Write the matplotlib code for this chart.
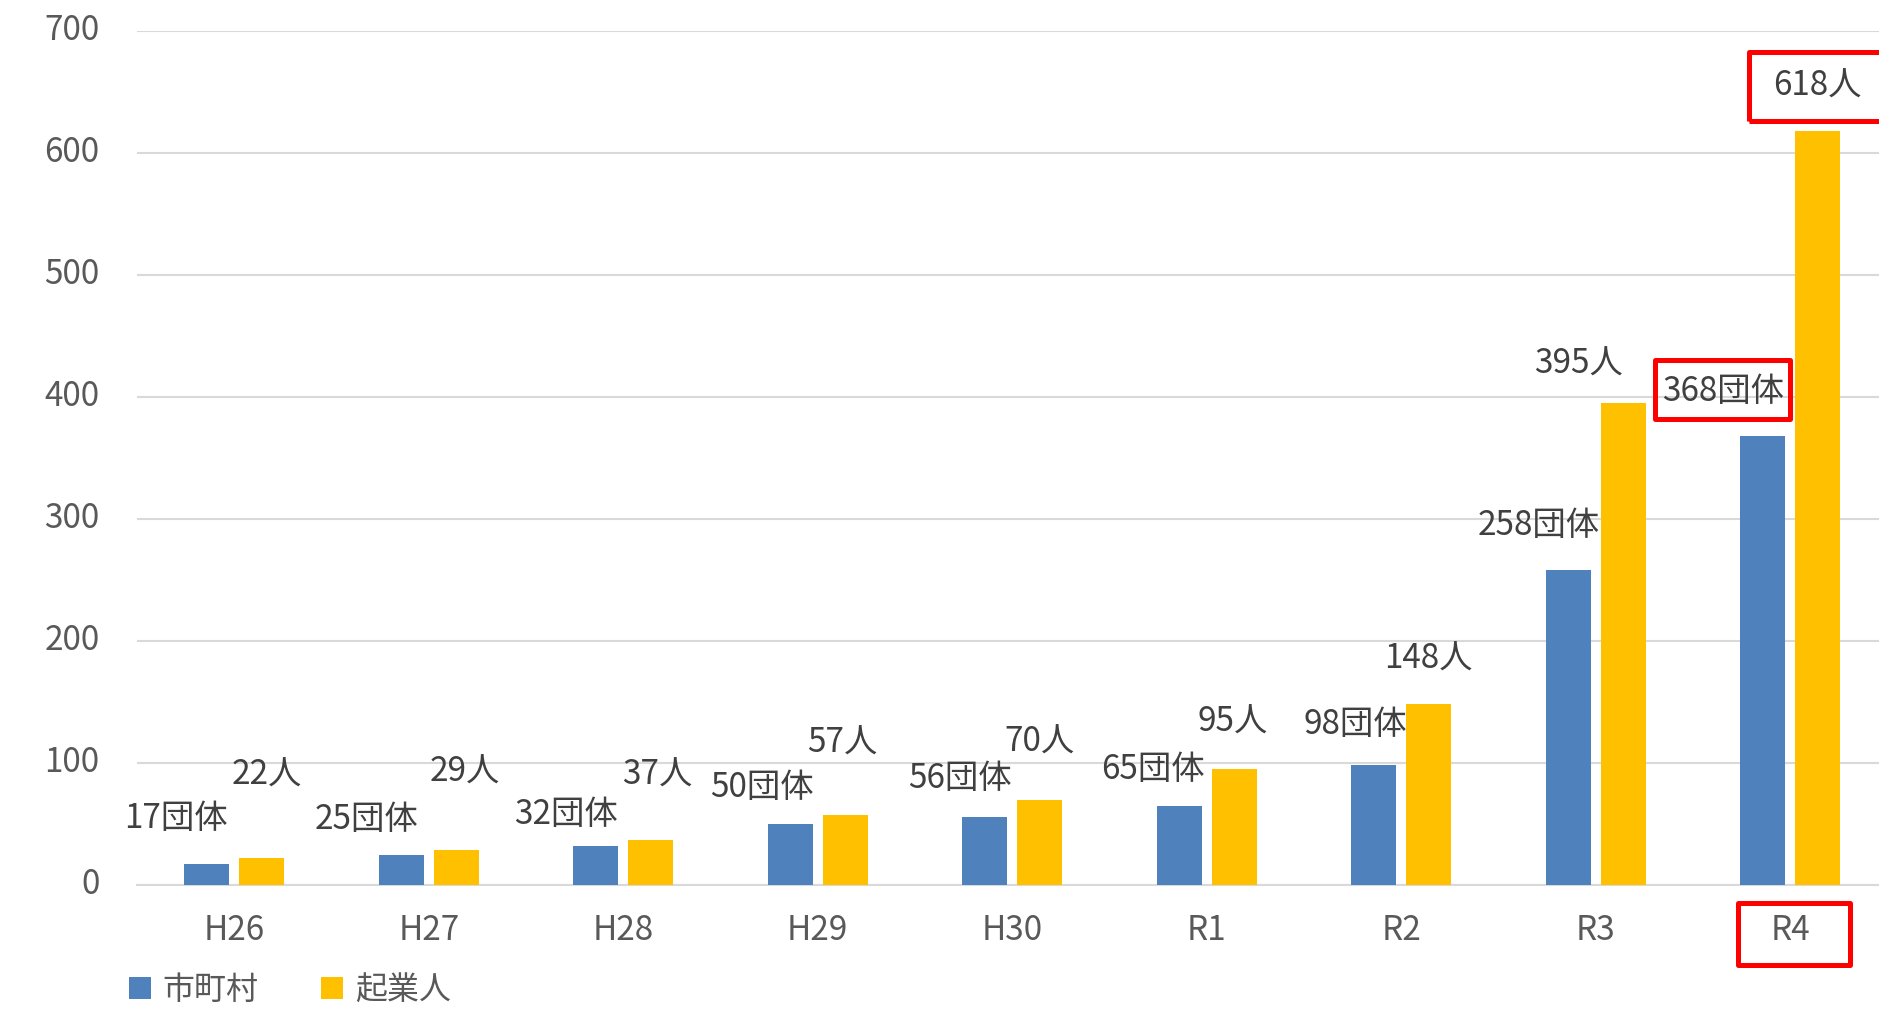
"""Bar chart: 市町村 (groups) and 起業人 (people) per fiscal year, H26–R4."""

import matplotlib.pyplot as plt
import numpy as np
from matplotlib.patches import Rectangle
from matplotlib.transforms import IdentityTransform, ScaledTranslation

years = ["H26", "H27", "H28", "H29", "H30", "R1", "R2", "R3", "R4"]
municipalities = [17, 25, 32, 50, 56, 65, 98, 258, 368]
entrepreneurs = [22, 29, 37, 57, 70, 95, 148, 395, 618]
series_names = ["市町村", "起業人"]
yticks = [0, 100, 200, 300, 400, 500, 600, 700]

# hand-placed label offsets (pixels from bar top centre), as in the source chart
blue_offsets = [(-31, 46), (-35, 35), (-30, 31), (-28, 36), (-25, 38),
                (-26, 36), (-19, 41), (-30, 45), (-40, 45)]
gold_offsets = [(5, 83), (9, 77), (7, 65), (-3, 72), (0, 57),
                (-1, 47), (0, 45), (-45, 39), (0, 45)]

BLUE = "#4F81BD"
GOLD = "#FFC000"
GRID = "#D9D9D9"
TICK = "#595959"
LABEL = "#404040"
RED = "#FF0000"
FS = 24

plt.rcParams["font.family"] = ["Noto Sans CJK JP", "DejaVu Sans"]

fig = plt.figure(figsize=(18.79, 10.10), dpi=100)
W, H = 1879, 1010
left, bottom, top = 137, 885, 31
cat_px = 194.5
ax = fig.add_axes([left / W, 1 - bottom / H, 1 - left / W, (bottom - top) / H])

x = np.arange(len(years))
w = 0.23
off = 0.141
b1 = ax.bar(x - off, municipalities, w, color=BLUE, label=series_names[0], zorder=3)
b2 = ax.bar(x + off, entrepreneurs, w, color=GOLD, label=series_names[1], zorder=3)

ax.set_xlim(-0.5, -0.5 + (W - left) / cat_px)
ax.set_ylim(0, 700)
ax.set_yticks(yticks)
ax.set_xticks(x, years)
ax.grid(axis="y", color=GRID, lw=1.5, zorder=0)
ax.tick_params(axis="both", length=0, labelsize=FS, labelcolor=TICK)
ax.tick_params(axis="x", pad=20)
ax.tick_params(axis="y", pad=27)
for s in ["top", "right", "left"]:
    ax.spines[s].set_visible(False)
ax.spines["bottom"].set_color(GRID)
ax.spines["bottom"].set_linewidth(1.5)
lift = ScaledTranslation(0, 5 / 100, fig.dpi_scale_trans)
for lab in ax.get_yticklabels():
    lab.set_transform(lab.get_transform() + lift)

blue_texts = []
for rect, v, (dx, dy) in zip(b1, municipalities, blue_offsets):
    blue_texts.append(ax.annotate(
        f"{v}団体", (rect.get_x() + rect.get_width() / 2, v), xytext=(dx, dy),
        textcoords="offset pixels", ha="center", va="center", fontsize=FS,
        color=LABEL, annotation_clip=False, zorder=5))
gold_texts = []
for rect, v, (dx, dy) in zip(b2, entrepreneurs, gold_offsets):
    gold_texts.append(ax.annotate(
        f"{v}人", (rect.get_x() + rect.get_width() / 2, v), xytext=(dx, dy),
        textcoords="offset pixels", ha="center", va="center", fontsize=FS,
        color=LABEL, annotation_clip=False, zorder=5))

fig.legend(loc="center left", bbox_to_anchor=(129 / W, 1 - 990 / H), ncol=2,
           frameon=False, fontsize=23, labelcolor=TICK, handlelength=0.69,
           handleheight=0.69, handletextpad=0.37, columnspacing=1.95,
           borderpad=0, borderaxespad=0)

# red highlight boxes around the latest year's figures (pixel half-sizes)
fig.canvas.draw()
renderer = fig.canvas.get_renderer()
highlights = [
    (blue_texts[-1], 67.5, 29.5, 0, 2),
    (gold_texts[-1], 69, 34.5, 0, 0),
    (ax.get_xticklabels()[-1], 56, 31, 4, -4),
]
for txt, hw, hh, sx, sy in highlights:
    bb = txt.get_window_extent(renderer)
    cx, cy = (bb.x0 + bb.x1) / 2 + sx, (bb.y0 + bb.y1) / 2 + sy
    fig.add_artist(Rectangle((cx - hw, cy - hh), 2 * hw, 2 * hh,
                             transform=IdentityTransform(), fill=False,
                             ec=RED, lw=3.6, joinstyle="round", zorder=6))

fig.savefig("out.png", dpi=100)
